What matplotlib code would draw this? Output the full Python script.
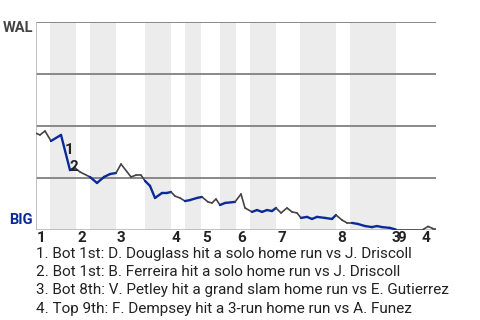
import matplotlib.pyplot as plt
from matplotlib.collections import LineCollection

# win probability for WAL (%), by play
plays = [0, 0.8, 1.8, 3, 5, 6.8, 7.8, 8.8, 10.8, 12.2, 13.6, 14.8, 16, 17, 19, 20, 21,
         21.8, 22.8, 23.8, 25.2, 26.2, 27, 27.8, 28.8, 29.8, 30.8, 32.2, 33.2, 34.4,
         35.2, 36, 36.8, 37.8, 39.8, 41, 41.8, 43.2, 44.2, 45.2, 46.2, 47.2, 48, 49,
         50.2, 51.2, 52.2, 53, 54.2, 55.2, 56.2, 57.8, 59.2, 60, 61.2, 62.2, 63.2,
         64.4, 65.8, 67.2, 68.2, 69.2, 70.8, 72, 77.4, 78.4, 79.4, 80]
wal_wp = [46.5, 45.7, 47.6, 42.8, 45.7, 28.8, 29.8, 27.9, 25.5, 22.6, 25.5, 26.9, 27.4,
          31.7, 25.5, 26.4, 26.4, 23.6, 21.2, 15.4, 17.8, 17.8, 18.3, 16.3, 15.4, 13.9,
          14.4, 15.4, 15.9, 13.5, 13.0, 14.9, 12.0, 13.0, 13.5, 17.3, 10.6, 8.7, 9.6,
          8.7, 9.6, 9.1, 10.6, 8.2, 10.6, 8.7, 8.2, 5.8, 6.3, 5.3, 6.3, 5.8, 5.3, 7.2,
          4.8, 3.4, 3.4, 2.9, 1.9, 1.4, 1.9, 1.4, 1.0, 0.2, 0.2, 1.7, 0.7, 0.7]

# half innings
inning_start = [0, 8, 16, 27, 33, 40, 48, 60, 72]
bottom_start = [2.8, 10.8, 21.8, 29.8, 36.8, 42.8, 52.8, 62.8]
bottom_end = [8, 16, 27, 33, 40, 48, 60, 72]

# home runs
hr_labels = ["1", "2", "3", "4"]
hr_x = [6.6, 7.5, 71.9, 77.9]
hr_y = [38.5, 30.3, -3.8, -3.8]
hr_text = [
    "1. Bot 1st: D. Douglass hit a solo home run vs J. Driscoll",
    "2. Bot 1st: B. Ferreira hit a solo home run vs J. Driscoll",
    "3. Bot 8th: V. Petley hit a grand slam home run vs E. Gutierrez",
    "4. Top 9th: F. Dempsey hit a 3-run home run vs A. Funez",
]

GRAY = "#444444"
BLUE = "#0a2a9a"


def main():
    plt.rcParams["font.family"] = ["Roboto", "DejaVu Sans"]
    fig = plt.figure(figsize=(4.8, 3.2), dpi=100)
    ax = fig.add_axes([36 / 480, 90 / 320, 400 / 480, 208 / 320])
    ax.set_xlim(0, 80)
    ax.set_ylim(0, 100)
    ax.axis("off")

    for s, e in zip(bottom_start, bottom_end):
        ax.axvspan(s, e, color="#ececec", lw=0, zorder=0)
    for y in [25, 50, 75, 100]:
        ax.axhline(y, color="#808080", lw=1.3, zorder=1)
    ax.axhline(0, color="#b8b8b8", lw=1.2, zorder=1)
    ax.axvline(0, color="#b8b8b8", lw=1.2, zorder=1)

    # colour each segment by which team is batting
    segs, colors, widths = [], [], []
    for i in range(len(plays) - 1):
        mid = (plays[i] + plays[i + 1]) / 2
        bot = any(s <= mid <= e for s, e in zip(bottom_start, bottom_end))
        segs.append([(plays[i], wal_wp[i]), (plays[i + 1], wal_wp[i + 1])])
        colors.append(BLUE if bot else GRAY)
        widths.append(1.7 if bot else 1.2)
    ax.add_collection(LineCollection(segs, colors=colors, linewidths=widths,
                                     capstyle="round", joinstyle="round", zorder=3))

    ax.text(-0.6, 97, "WAL", ha="right", va="center", fontsize=10.5,
            fontweight="bold", color="#444444", clip_on=False)
    ax.text(-0.6, 4.8, "BIG", ha="right", va="center", fontsize=10.5,
            fontweight="bold", color=BLUE, clip_on=False)

    for n, x in enumerate(inning_start):
        ax.text(x + 0.2, -3.8, str(n + 1), ha="left", va="center", fontsize=11,
                fontweight="bold", color="#222222", clip_on=False)
    for lab, x, y in zip(hr_labels, hr_x, hr_y):
        ax.text(x, y, lab, ha="center", va="center", fontsize=11,
                fontweight="bold", color="#222222", clip_on=False, zorder=4)

    for i, t in enumerate(hr_text):
        fig.text(36 / 480, 1 - (254 + 18.2 * i) / 320, t, ha="left", va="center",
                 fontsize=11, color="#222222")

    fig.savefig("out.png", dpi=100)
    plt.close(fig)


if __name__ == "__main__":
    main()
